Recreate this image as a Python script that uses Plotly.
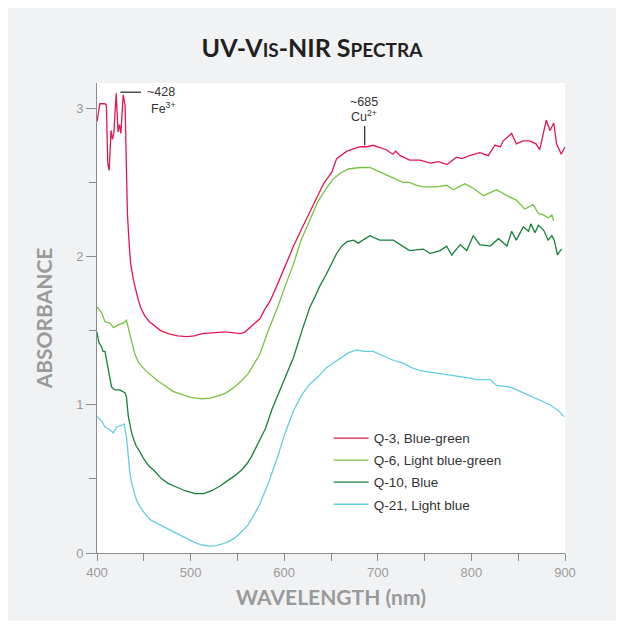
import plotly.graph_objects as go

# ---- data (wavelength nm, absorbance) ----
q3_wl = [400, 403, 408.5, 410, 411.5, 413, 415, 416.5, 418, 420.5, 422.5, 424, 425.5, 428, 430, 431, 432.5,
         434.5, 436, 439, 441.5, 444, 447, 451, 456, 462, 468, 476, 486, 496, 504, 512, 519, 526, 533, 540,
         547, 553, 558, 565, 569, 574, 579, 585, 592, 600, 610, 619, 628, 635, 642, 651,
         656, 667, 681, 688, 695, 709, 716, 719, 724, 734, 745, 756, 765, 774, 784, 790, 798, 809, 818,
         825, 831, 834, 843, 848, 855, 862, 869, 873, 880, 884, 888, 891, 896, 900]
q3_abs = [2.91, 3.03, 3.03, 3.02, 2.63, 2.58, 2.85, 2.79, 2.83, 3.10, 2.84, 2.89, 2.83, 3.09, 3.02, 2.63, 2.29,
          2.07, 1.95, 1.84, 1.77, 1.71, 1.65, 1.60, 1.56, 1.53, 1.50, 1.48, 1.465, 1.46, 1.465, 1.48, 1.485,
          1.49, 1.49, 1.49, 1.485, 1.48, 1.49, 1.53, 1.55, 1.58, 1.64, 1.70, 1.80, 1.92, 2.07, 2.19, 2.31,
          2.40, 2.49, 2.57, 2.66, 2.71, 2.74, 2.74, 2.75, 2.72, 2.69, 2.71, 2.68, 2.65, 2.65, 2.63, 2.64, 2.62,
          2.67, 2.66, 2.68, 2.70, 2.68, 2.75, 2.74, 2.78, 2.83, 2.76, 2.78, 2.78, 2.76, 2.72, 2.92, 2.85, 2.90,
          2.76, 2.69, 2.74]

q6_wl = [400, 403, 405, 408.5, 414, 417.5, 423, 428, 431.5, 435, 437.5, 440.5, 444, 447.5, 452, 458, 465, 472.5,
         481, 490.5, 500, 512, 521, 529.5, 538, 547, 554, 561.5, 568, 574, 583, 592, 601, 610, 618, 627.5, 636,
         645, 652, 659.5, 668.5, 681, 691.5, 702, 713, 720, 727, 734, 741.5,
         748.5, 763, 773.5, 780.5, 793, 802, 813, 827, 838, 848, 857, 866, 871.5, 877, 882, 886, 888]
q6_abs = [1.66, 1.64, 1.62, 1.56, 1.55, 1.52, 1.54, 1.55, 1.57, 1.48, 1.41, 1.34, 1.29, 1.26, 1.23, 1.20, 1.16,
          1.13, 1.09, 1.07, 1.05, 1.04, 1.045, 1.06, 1.08, 1.12, 1.16, 1.21, 1.28, 1.34, 1.50, 1.64, 1.80, 1.95,
          2.11, 2.25, 2.37, 2.46, 2.52, 2.56, 2.59, 2.60, 2.60, 2.57, 2.54, 2.52, 2.50, 2.50, 2.48,
          2.47, 2.47, 2.48, 2.45, 2.49, 2.46, 2.41, 2.45, 2.41, 2.38, 2.32, 2.35, 2.29, 2.28, 2.26, 2.28, 2.24]

q10_wl = [400, 402, 405, 406.5, 408.5, 412, 415.5, 419, 424.5, 430, 431.5, 433.5, 435, 437, 439.5, 442, 446,
          449.5, 455, 462, 469, 476, 483, 494, 505, 514, 522.5, 531, 540, 547, 554.5, 560, 565, 570, 574, 580,
          587, 595.5, 602, 610, 619, 627.5, 633, 638, 645, 650.5, 656, 661.5, 667, 674, 679, 691.5,
          702, 716.5, 724, 734, 748.5, 756, 766.5, 773.5, 779, 788, 795, 802, 809, 820, 829, 838, 843, 848,
          855.5, 861, 863.5, 868, 871.5, 877, 882, 886, 888.5, 892, 895, 896.5]
q10_abs = [1.49, 1.42, 1.39, 1.36, 1.36, 1.23, 1.12, 1.10, 1.10, 1.08, 1.05, 0.92, 0.86, 0.81, 0.76, 0.72, 0.68,
           0.64, 0.59, 0.55, 0.50, 0.47, 0.45, 0.42, 0.40, 0.40, 0.42, 0.45, 0.49, 0.52, 0.56, 0.60, 0.65, 0.71,
           0.76, 0.84, 0.97, 1.10, 1.21, 1.32, 1.50, 1.66, 1.73, 1.80, 1.88, 1.95, 2.02, 2.07, 2.10, 2.11, 2.09,
           2.14, 2.11, 2.11, 2.08, 2.04, 2.05, 2.02, 2.04, 2.07, 2.01, 2.08, 2.04, 2.14, 2.08, 2.07, 2.12, 2.07,
           2.17, 2.11, 2.20, 2.17, 2.22, 2.16, 2.21, 2.18, 2.11, 2.14, 2.11, 2.01, 2.04, 2.05]

q21_wl = [400, 405, 408.5, 414, 417.5, 421, 426, 429, 431.5, 433.5, 435, 437, 439.5, 442, 446, 449.5, 453, 458,
          467, 476, 485, 494, 503, 512, 520.5, 527, 533, 540, 547, 554, 561.5, 568, 574, 583, 592, 601, 610, 618,
          627.5, 636.5, 645, 652, 659.5, 668.5, 677.5, 684.5, 695, 706, 716.5, 727,
          736, 745, 756, 770, 788, 798.5, 805.5, 820, 827, 841, 852, 862.5, 873, 884, 893, 898, 899]
q21_abs = [0.92, 0.89, 0.85, 0.83, 0.81, 0.85, 0.86, 0.87, 0.78, 0.63, 0.55, 0.47, 0.41, 0.36, 0.31, 0.28, 0.25,
           0.22, 0.19, 0.16, 0.13, 0.10, 0.075, 0.054, 0.047, 0.05, 0.059, 0.075, 0.10, 0.14, 0.19, 0.26, 0.33,
           0.47, 0.63, 0.81, 0.96, 1.06, 1.14, 1.19, 1.25, 1.28, 1.31, 1.35, 1.37, 1.36, 1.36, 1.33,
           1.30, 1.28, 1.25, 1.23, 1.22, 1.21, 1.19, 1.18, 1.17, 1.17, 1.13, 1.12, 1.09, 1.06, 1.03, 1.00, 0.96,
           0.92, 0.92]

series_names = ["Q-3, Blue-green", "Q-6, Light blue-green", "Q-10, Blue", "Q-21, Light blue"]
series_colors = ["#e3174f", "#78c142", "#167f3c", "#62cfe0"]
series_x = [q3_wl, q6_wl, q10_wl, q21_wl]
series_y = [q3_abs, q6_abs, q10_abs, q21_abs]

x_ticks = [400, 500, 600, 700, 800, 900]
y_ticks = [0, 1, 2, 3]

TEXT = "Liberation Sans, Arial, sans-serif"
GREY = "#9a9a9a"
AXIS = "#8c8c8c"

fig = go.Figure()
for name, col, xs, ys in zip(series_names, series_colors, series_x, series_y):
    fig.add_trace(go.Scatter(x=xs, y=ys, mode="lines", name=name, legendgroup=name,
                             line=dict(color=col, width=1.3)))

# peak markers
fig.add_shape(type="line", x0=425, x1=447, y0=3.108, y1=3.108, line=dict(color="#222", width=1.2))
fig.add_shape(type="line", x0=686, x1=686, y0=2.88, y1=2.75, line=dict(color="#222", width=1.2))
fig.add_annotation(x=451, y=3.108, text="~428", showarrow=False, xanchor="left",
                   font=dict(family=TEXT, size=12.5, color="#333"))
fig.add_annotation(x=456, y=3.0, text="Fe<sup>3+</sup>", showarrow=False, xanchor="left",
                   font=dict(family=TEXT, size=12.5, color="#333"))
fig.add_annotation(x=685, y=3.04, text="~685", showarrow=False,
                   font=dict(family=TEXT, size=12.5, color="#333"))
fig.add_annotation(x=685, y=2.945, text="Cu<sup>2+</sup>", showarrow=False,
                   font=dict(family=TEXT, size=12.5, color="#333"))

fig.update_layout(
    width=608, height=613,
    margin=dict(l=89, r=51, t=75, b=68),
    paper_bgcolor="#f1f2f4", plot_bgcolor="white",
    title=dict(text="UV-V<span style='font-size:19px'>IS</span>-NIR S<span style='font-size:19px'>PECTRA</span>",
               x=0.5, xanchor="center", y=0.935, yanchor="middle",
               font=dict(family="Lato, sans-serif", size=25, color="#231f20", weight="bold")),
    showlegend=True,
    legend=dict(x=0.495, y=0.277, xanchor="left", yanchor="top", bgcolor="rgba(0,0,0,0)",
                font=dict(family=TEXT, size=13.5, color="#333"), itemwidth=35, tracegroupgap=1.5),
    xaxis=dict(range=[400, 900], tickvals=x_ticks, ticks="outside", ticklen=7, tickcolor=AXIS,
               showline=True, linecolor=AXIS, linewidth=1, showgrid=False, zeroline=False,
               minor=dict(dtick=50, ticks="outside", ticklen=7, tickcolor=AXIS),
               tickfont=dict(family=TEXT, size=13, color=GREY),
               title=dict(text="WAVELENGTH (nm)", standoff=11,
                          font=dict(family="Lato, sans-serif", size=21, color=GREY, weight="bold"))),
    yaxis=dict(range=[0, 3.17], tickvals=y_ticks, ticks="outside", ticklen=10, tickcolor=AXIS,
               showline=True, linecolor=AXIS, linewidth=1, showgrid=False, zeroline=False,
               minor=dict(dtick=0.5, ticks="outside", ticklen=7, tickcolor=AXIS),
               tickfont=dict(family=TEXT, size=13, color=GREY),
               title=dict(text="ABSORBANCE", standoff=17,
                          font=dict(family="Lato, sans-serif", size=21, color=GREY, weight="bold"))),
)

fig.write_html("out.html")
